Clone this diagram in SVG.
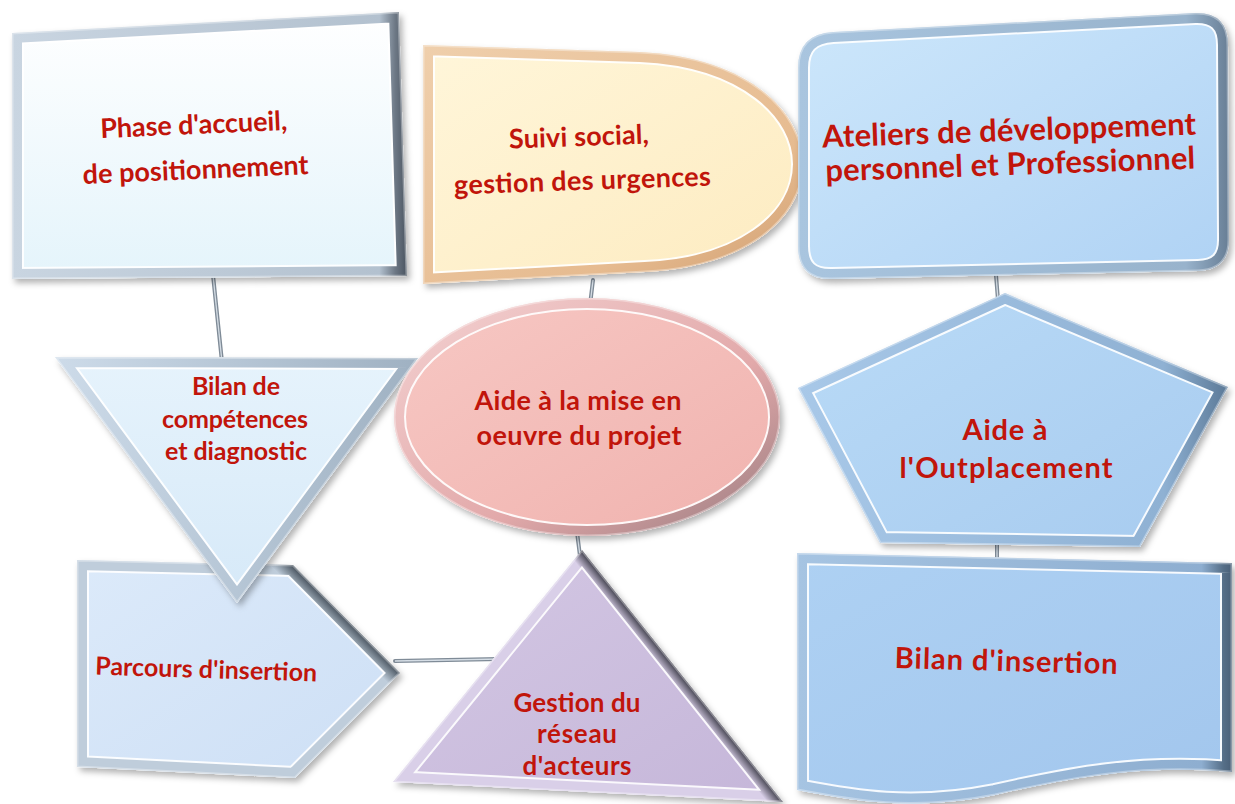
<svg xmlns="http://www.w3.org/2000/svg" width="1235" height="804" viewBox="0 0 1235 804">
<style>
.t{font-family:Lato,"Liberation Sans",sans-serif;font-weight:700;fill:#c1150b;text-anchor:middle}
.hl{fill:none;stroke:#ffffff;stroke-width:24;stroke-opacity:.9}
.fr{fill:none;stroke-width:20}
.rim{fill:none;stroke-width:3;stroke:#ffffff;stroke-opacity:.35}
.cn{stroke:#7f8b97;stroke-width:4;stroke-linecap:round;fill:none}
.cnh{stroke:#d5dde5;stroke-width:1.3;fill:none}
</style>
<defs>
<filter id="ds" x="-10%" y="-10%" width="130%" height="130%"><feDropShadow dx="3" dy="4" stdDeviation="3" flood-color="#000" flood-opacity="0.3"/></filter>
<path id="p1" d="M12,33 L399,12 L407,276 L12,279 Z"/>
<path id="p2" d="M423,45 L640,52 C748,57 803,112 803,164 C803,222 740,268 645,272 L423,284 Z"/>
<path id="p3" d="M833,32 L1195,13 Q1228,12 1228,45 L1229,240 Q1229,270 1198,271 L832,279 Q798,280 798,246 L798,68 Q798,34 833,32 Z"/>
<path id="p4" d="M55,357 L418,358 L237,603 Z"/>
<ellipse id="p5" cx="587" cy="417" rx="193" ry="119"/>
<path id="p6" d="M1005,293 L1228,387 L1140,547 L880,543 L798,388 Z"/>
<path id="p7" d="M77,560 L293,565 L400,673 L295,778 L77,767 Z"/>
<path id="p8" d="M582,550 L783,802 L393,782 Z"/>
<path id="p9" d="M797,553 L1232,563 L1232,772 C1140,764 1070,778 995,795 C910,812 850,800 797,790 Z"/>
<clipPath id="c1"><use href="#p1"/></clipPath>
<clipPath id="c2"><use href="#p2"/></clipPath>
<clipPath id="c3"><use href="#p3"/></clipPath>
<clipPath id="c4"><use href="#p4"/></clipPath>
<clipPath id="c5"><use href="#p5"/></clipPath>
<clipPath id="c6"><use href="#p6"/></clipPath>
<clipPath id="c7"><use href="#p7"/></clipPath>
<clipPath id="c8"><use href="#p8"/></clipPath>
<clipPath id="c9"><use href="#p9"/></clipPath>
<linearGradient id="f1" x1="0" y1="0" x2="0" y2="1"><stop offset="0" stop-color="#ffffff"/><stop offset="1" stop-color="#e4f4fb"/></linearGradient>
<linearGradient id="f2" x1="0" y1="0" x2="1" y2="1"><stop offset="0" stop-color="#fff6da"/><stop offset="1" stop-color="#fdebc0"/></linearGradient>
<linearGradient id="f3" x1="0" y1="0" x2="1" y2="1"><stop offset="0" stop-color="#cde7fb"/><stop offset="1" stop-color="#afd2f4"/></linearGradient>
<linearGradient id="f4" x1="0" y1="0" x2="0" y2="1"><stop offset="0" stop-color="#e6f3fc"/><stop offset="1" stop-color="#d6e9f8"/></linearGradient>
<linearGradient id="f5" x1="0" y1="0" x2="1" y2="1"><stop offset="0" stop-color="#f7c8c4"/><stop offset="1" stop-color="#f0b2ae"/></linearGradient>
<linearGradient id="f6" x1="0" y1="0" x2="1" y2="1"><stop offset="0" stop-color="#badbf7"/><stop offset="1" stop-color="#a7cbef"/></linearGradient>
<linearGradient id="f7" x1="0" y1="0" x2="1" y2="1"><stop offset="0" stop-color="#dceafa"/><stop offset="1" stop-color="#cddff5"/></linearGradient>
<linearGradient id="f8" x1="0" y1="0" x2="1" y2="1"><stop offset="0" stop-color="#d4c8e4"/><stop offset="1" stop-color="#c5b6d9"/></linearGradient>
<linearGradient id="f9" x1="0" y1="0" x2="1" y2="1"><stop offset="0" stop-color="#aed1f3"/><stop offset="1" stop-color="#a2c6ed"/></linearGradient>
<linearGradient id="k1" x1="0" y1="0" x2="1" y2="0"><stop offset="0" stop-color="#c9d5e1"/><stop offset=".93" stop-color="#b3c1cf"/><stop offset=".97" stop-color="#6d7885"/><stop offset="1" stop-color="#4a5460"/></linearGradient>
<linearGradient id="k2" x1="0" y1="0" x2="1" y2="1"><stop offset="0" stop-color="#efcfac"/><stop offset=".7" stop-color="#e6bb90"/><stop offset="1" stop-color="#cf9c6e"/></linearGradient>
<linearGradient id="k3" x1="0" y1="0" x2="1" y2="0"><stop offset="0" stop-color="#a9c5df"/><stop offset=".9" stop-color="#98b3cc"/><stop offset="1" stop-color="#687e95"/></linearGradient>
<linearGradient id="k4" x1="0" y1="0" x2="1" y2="0"><stop offset="0" stop-color="#cddbe9"/><stop offset="1" stop-color="#9fb1c2"/></linearGradient>
<linearGradient id="k5" x1="0" y1="0" x2="1" y2="1"><stop offset="0" stop-color="#f4d2d2"/><stop offset=".6" stop-color="#e2a9aa"/><stop offset="1" stop-color="#977a7e"/></linearGradient>
<linearGradient id="k6" x1="0" y1="0" x2="1" y2="0"><stop offset="0" stop-color="#a8c8e8"/><stop offset=".85" stop-color="#8fb1d3"/><stop offset="1" stop-color="#5b7997"/></linearGradient>
<linearGradient id="k7" gradientUnits="userSpaceOnUse" x1="303" y1="598" x2="314" y2="587"><stop offset="0" stop-color="#bfcddb"/><stop offset="1" stop-color="#4a5560"/></linearGradient>
<linearGradient id="k8" gradientUnits="userSpaceOnUse" x1="652" y1="658" x2="662" y2="650"><stop offset="0" stop-color="#d9cfe8"/><stop offset="1" stop-color="#3c3c48"/></linearGradient>
<linearGradient id="k9" x1="0" y1="0" x2="1" y2="0"><stop offset="0" stop-color="#a6c4e2"/><stop offset=".93" stop-color="#8eaed0"/><stop offset=".98" stop-color="#566f88"/><stop offset="1" stop-color="#4a6078"/></linearGradient>
</defs>
<rect width="1235" height="804" fill="#ffffff"/>
<g id="connectors">
<line class="cn" x1="213" y1="275" x2="222" y2="362"/><line class="cnh" x1="213" y1="275" x2="222" y2="362"/>
<line class="cn" x1="593" y1="280" x2="590" y2="305"/><line class="cnh" x1="593" y1="280" x2="590" y2="305"/>
<line class="cn" x1="996" y1="275" x2="998" y2="300"/><line class="cnh" x1="996" y1="275" x2="998" y2="300"/>
<line class="cn" x1="997" y1="540" x2="997" y2="558"/><line class="cnh" x1="997" y1="540" x2="997" y2="558"/>
<line class="cn" x1="577" y1="532" x2="580" y2="556"/><line class="cnh" x1="577" y1="532" x2="580" y2="556"/>
<line class="cn" x1="395" y1="661" x2="500" y2="659"/><line class="cnh" x1="395" y1="661" x2="500" y2="659"/>
</g>
<g id="node1">
<use href="#p1" fill="#fff" filter="url(#ds)"/>
<g clip-path="url(#c1)"><use href="#p1" fill="url(#f1)"/><use href="#p1" class="hl"/><use href="#p1" class="fr" stroke="url(#k1)"/><use href="#p1" class="rim"/></g>
<g transform="rotate(-2.5 195 156)"><text class="t" font-size="27" x="195" y="134" textLength="187">Phase d'accueil,</text><text class="t" font-size="27" x="195" y="179" textLength="226">de positionnement</text></g>
</g>
<g id="node2">
<use href="#p2" fill="#fff" filter="url(#ds)"/>
<g clip-path="url(#c2)"><use href="#p2" fill="url(#f2)"/><use href="#p2" class="hl"/><use href="#p2" class="fr" stroke="url(#k2)"/><use href="#p2" class="rim"/></g>
<g transform="rotate(-2 581 168)"><text class="t" font-size="27" x="580" y="146" textLength="140">Suivi social,</text><text class="t" font-size="27" x="582" y="190" textLength="257">gestion des urgences</text></g>
</g>
<g id="node3">
<use href="#p3" fill="#fff" filter="url(#ds)"/>
<g clip-path="url(#c3)"><use href="#p3" fill="url(#f3)"/><use href="#p3" class="hl"/><use href="#p3" class="fr" stroke="url(#k3)"/><use href="#p3" class="rim"/></g>
<g transform="rotate(-2 1010 156)"><text class="t" font-size="31" x="1010" y="141" textLength="374">Ateliers de développement</text><text class="t" font-size="31" x="1010" y="175" textLength="370">personnel et Professionnel</text></g>
</g>
<g id="node7">
<use href="#p7" fill="#fff" filter="url(#ds)"/>
<g clip-path="url(#c7)"><use href="#p7" fill="url(#f7)"/><use href="#p7" class="hl"/><use href="#p7" class="fr" stroke="url(#k7)"/><use href="#p7" class="rim"/></g>
<text class="t" font-size="25" x="206" y="678" textLength="222" transform="rotate(1.8 206 678)">Parcours d'insertion</text>
</g>
<g id="node4">
<use href="#p4" fill="#fff" filter="url(#ds)"/>
<g clip-path="url(#c4)"><use href="#p4" fill="url(#f4)"/><use href="#p4" class="hl"/><use href="#p4" class="fr" stroke="url(#k4)"/><use href="#p4" class="rim"/></g>
<text class="t" font-size="25" x="236" y="395" textLength="88">Bilan de</text>
<text class="t" font-size="25" x="235" y="428" textLength="146">compétences</text>
<text class="t" font-size="25" x="236" y="460" textLength="142">et diagnostic</text>
</g>
<g id="node5">
<use href="#p5" fill="#fff" filter="url(#ds)"/>
<g clip-path="url(#c5)"><use href="#p5" fill="url(#f5)"/><use href="#p5" class="hl" stroke-width="20"/><use href="#p5" class="fr" stroke="url(#k5)" stroke-width="16"/><use href="#p5" class="rim"/></g>
<text class="t" font-size="27" x="578" y="410" textLength="207">Aide à la mise en</text>
<text class="t" font-size="27" x="579" y="445" textLength="205">oeuvre du projet</text>
</g>
<g id="node6">
<use href="#p6" fill="#fff" filter="url(#ds)"/>
<g clip-path="url(#c6)"><use href="#p6" fill="url(#f6)"/><use href="#p6" class="hl"/><use href="#p6" class="fr" stroke="url(#k6)"/><use href="#p6" class="rim"/></g>
<text class="t" font-size="29" x="1005" y="440" textLength="85">Aide à</text>
<text class="t" font-size="29" x="1006" y="478" textLength="213">l'Outplacement</text>
</g>
<g id="node9">
<use href="#p9" fill="#fff" filter="url(#ds)"/>
<g clip-path="url(#c9)"><use href="#p9" fill="url(#f9)"/><use href="#p9" class="hl"/><use href="#p9" class="fr" stroke="url(#k9)"/><use href="#p9" class="rim"/></g>
<text class="t" font-size="29" x="1006" y="671" textLength="223" transform="rotate(1.5 1006 671)">Bilan d'insertion</text>
</g>
<g id="node8">
<use href="#p8" fill="#fff" filter="url(#ds)"/>
<g clip-path="url(#c8)"><use href="#p8" fill="url(#f8)"/><use href="#p8" class="hl"/><use href="#p8" class="fr" stroke="url(#k8)"/><use href="#p8" class="rim"/></g>
<text class="t" font-size="26" x="577" y="712" textLength="127">Gestion du</text>
<text class="t" font-size="26" x="577" y="743" textLength="80">réseau</text>
<text class="t" font-size="26" x="577" y="775" textLength="109">d'acteurs</text>
</g>
</svg>
